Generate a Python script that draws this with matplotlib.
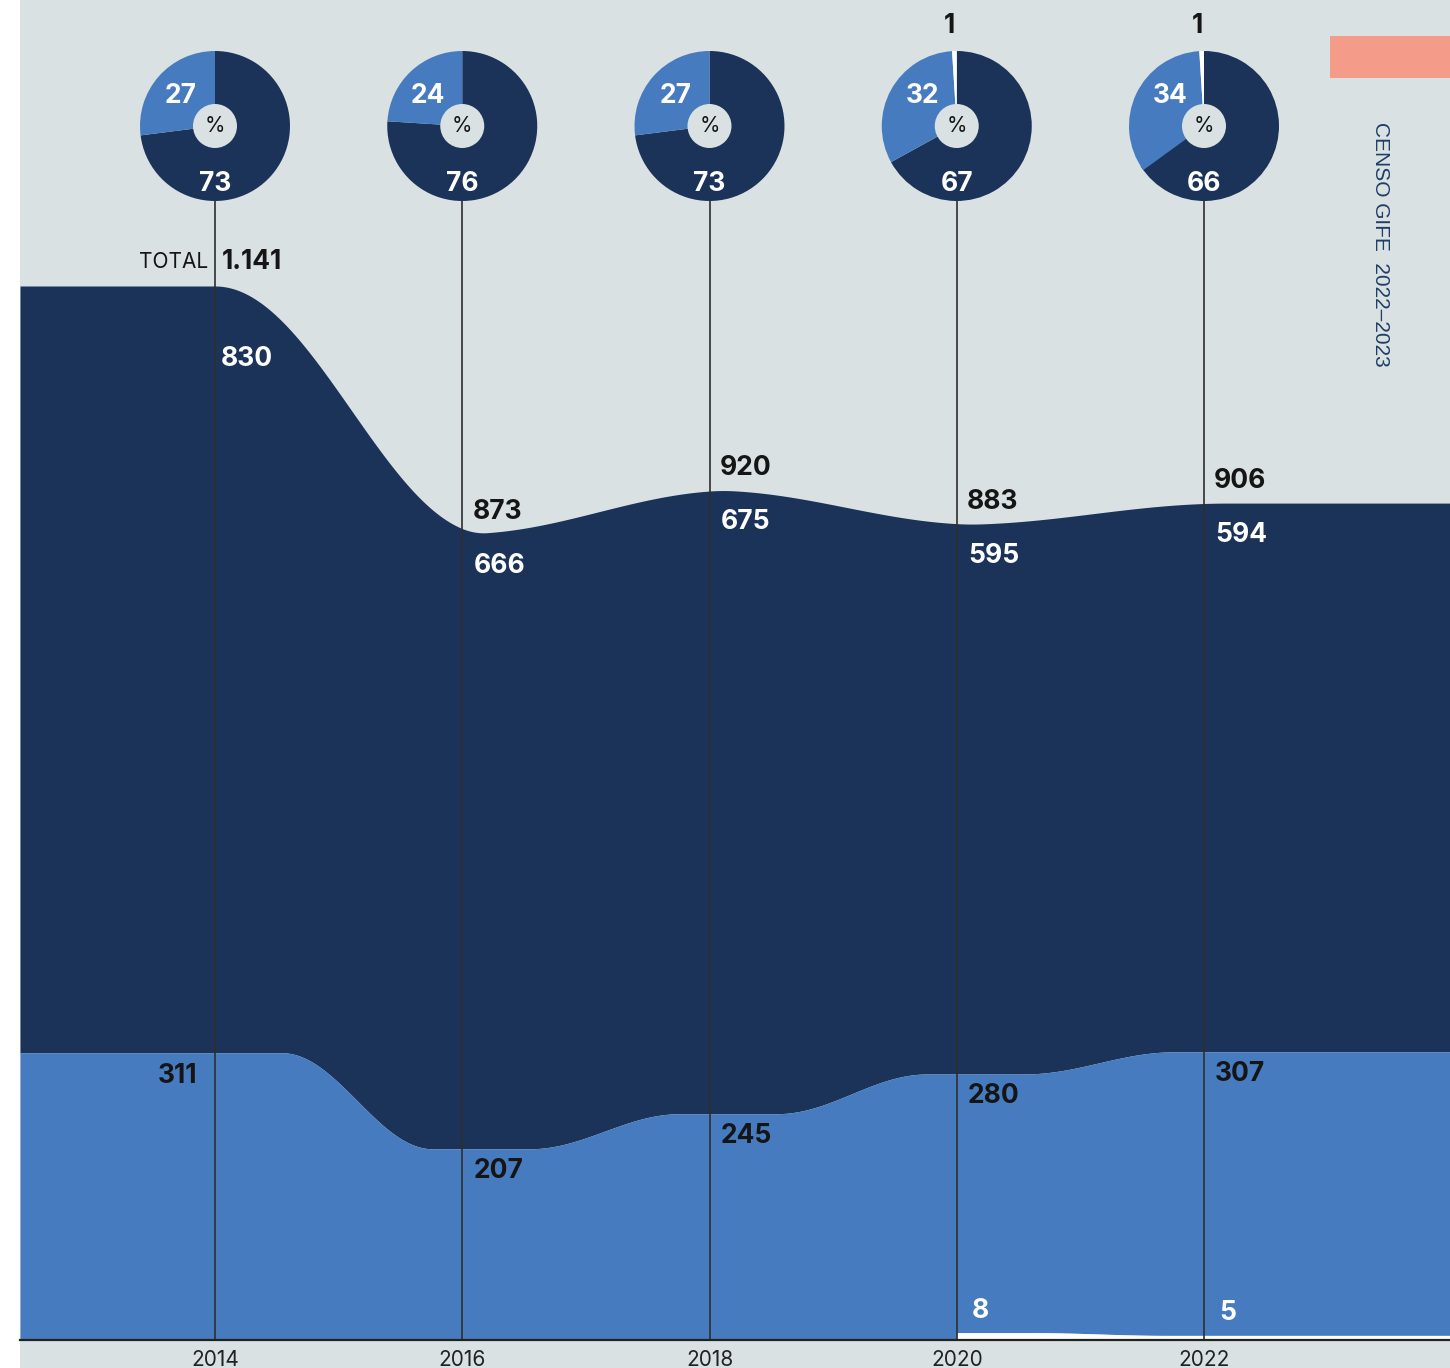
#!/usr/bin/env python3
"""
Stacked flow chart of GIFE census answers, 2014-2022, with a small pie per year.
"""
import numpy as np
import matplotlib.pyplot as plt
from matplotlib.patches import Wedge, Circle, Rectangle

# data
years = [2014, 2016, 2018, 2020, 2022]
dark_values = [830, 666, 675, 595, 594]
light_values = [311, 207, 245, 280, 307]
white_values = [0, 0, 0, 8, 5]
totals = [1141, 873, 920, 883, 906]
total_labels = ['1.141', '873', '920', '883', '906']
pct_dark = [73, 76, 73, 67, 66]
pct_light = [27, 24, 27, 32, 34]
pct_white = [0, 0, 0, 1, 1]

# colours
BG = '#d9e1e2'
DARK = '#1b3358'
LIGHT = '#467cbf'
TEXT = '#151515'
SALMON = '#f59b8a'

W, H = 1450, 1368
DPI = 100
NUM_SIZE = 19
plt.rcParams['font.family'] = ['Inter', 'Liberation Sans', 'DejaVu Sans']


def smooth(xs, ys, xx, start, end):
    """Step between the yearly values with a cosine ease inside each gap."""
    out = np.full(len(xx), float(ys[0]))
    for i in range(len(xs) - 1):
        gap = xs[i + 1] - xs[i]
        a, b = xs[i] + start * gap, xs[i] + end * gap
        t = np.clip((xx - a) / (b - a), 0, 1)
        out += (ys[i + 1] - ys[i]) * (1 - np.cos(np.pi * t)) / 2
    return out


fig = plt.figure(figsize=(W / DPI, H / DPI), dpi=DPI, facecolor='white')
fig.add_artist(Rectangle((20 / W, 0), 1 - 20 / W, 1, transform=fig.transFigure,
                         facecolor=BG, edgecolor='none', zorder=0))

# main area chart: 2014 sits at x=215px, 2022 at x=1204px, base at y=1340px
px_per_year = (1204 - 215) / 8
px_per_unit = (1340 - 286) / 1141
x_left = 2014 - (215 - 20) / px_per_year
x_right = 2022 + (W - 1204) / px_per_year

ax = fig.add_axes([20 / W, (H - 1340) / H, (W - 20) / W, 1340 / H])
ax.set_facecolor('none')
ax.set_xlim(x_left, x_right)
ax.set_ylim(0, 1340 / px_per_unit)

xx = np.linspace(x_left, x_right, 3000)
white_top = smooth(years, white_values, xx, 0.3, 0.85)
white_top[xx < 2020] = 0
light_top = smooth(years, np.add(light_values, white_values), xx, 0.27, 0.88)
total_top = smooth(years, totals, xx, 0.0, 1.1)

ax.fill_between(xx, light_top, total_top, color=DARK, lw=0, zorder=1)
ax.fill_between(xx, white_top, light_top, color=LIGHT, lw=0, zorder=1)
ax.fill_between(xx, 0, white_top, where=xx >= 2020, color='white', lw=0, zorder=1)

for yr in years:
    ax.axvline(yr, ymin=0, ymax=(1340 - 190) / 1340, color='#2e2e2e', lw=1.2, zorder=3)

for sp in ['top', 'right', 'left']:
    ax.spines[sp].set_visible(False)
ax.spines['bottom'].set_color('#222222')
ax.spines['bottom'].set_linewidth(1.6)
ax.spines['bottom'].set_zorder(4)
ax.set_yticks([])
ax.set_xticks(years)
ax.set_xticklabels([str(y) for y in years])
ax.tick_params(axis='x', length=0, pad=7, labelsize=15, labelcolor='#222222')

num_style = dict(fontsize=NUM_SIZE, fontweight='bold', textcoords='offset pixels', zorder=5)

# totals on top of each flow
for i, yr in enumerate(years):
    if i == 0:
        ax.annotate('TOTAL', (yr, totals[i]), xytext=(-7, 24), ha='right', va='center',
                    fontsize=15, color=TEXT, textcoords='offset pixels', zorder=5)
        ax.annotate(total_labels[i], (yr, totals[i]), xytext=(7, 24), ha='left',
                    va='center', color=TEXT, **num_style)
    else:
        ax.annotate(total_labels[i], (yr, totals[i]), xytext=(10, 22), ha='left',
                    va='center', color=TEXT, **num_style)

# dark band values, just under the top edge
for i, yr in enumerate(years):
    dy = -73 if i == 0 else -32
    ax.annotate(str(dark_values[i]), (yr, totals[i]), xytext=(6 if i == 0 else 11, dy),
                ha='left', va='center', color='white', **num_style)

# light band values
for i, yr in enumerate(years):
    top = light_values[i] + white_values[i]
    if i == 0:
        ax.annotate(str(light_values[i]), (yr, top), xytext=(-18, -23), ha='right',
                    va='center', color=TEXT, **num_style)
    else:
        ax.annotate(str(light_values[i]), (yr, top), xytext=(11, -22), ha='left',
                    va='center', color=TEXT, **num_style)

# thin white band values
for i, yr in enumerate(years):
    if white_values[i] > 0:
        ax.annotate(str(white_values[i]), (yr, white_values[i]), xytext=(15, 22),
                    ha='left', va='center', color='white', **num_style)

# overlay in pixel coordinates (y up) for the pies and side marks
ov = fig.add_axes([0, 0, 1, 1], zorder=5)
ov.set_xlim(0, W)
ov.set_ylim(0, H)
ov.axis('off')
ov.set_facecolor('none')

fig.canvas.draw()
pie_y = H - 126
radius = 75
for i, yr in enumerate(years):
    cx = ax.transData.transform((yr, 0))[0] / fig.dpi * DPI
    d, l, w = pct_dark[i], pct_light[i], pct_white[i]
    ov.add_patch(Wedge((cx, pie_y), radius, 90 - 3.6 * d, 90, color=DARK, lw=0))
    ov.add_patch(Wedge((cx, pie_y), radius, 90 + 3.6 * w, 90 + 3.6 * (w + l),
                       color=LIGHT, lw=0))
    if w > 0:
        ov.add_patch(Wedge((cx, pie_y), radius, 90, 90 + 3.6 * w, color='white', lw=0))
        ov.text(cx - 7, H - 26, str(w), ha='center', va='center', fontsize=NUM_SIZE,
                fontweight='bold', color=TEXT)
    ov.add_patch(Circle((cx, pie_y), 22, color=BG, lw=0))
    ov.text(cx, pie_y, '%', ha='center', va='center', fontsize=15, color=TEXT)
    ov.text(cx - 34, pie_y + 30, str(l), ha='center', va='center', fontsize=NUM_SIZE,
            fontweight='bold', color='white')
    ov.text(cx, pie_y - 58, str(d), ha='center', va='center', fontsize=NUM_SIZE,
            fontweight='bold', color='white')

# side marks
ov.add_patch(Rectangle((1330, H - 78), W - 1330, 42, color=SALMON, lw=0))
ov.text(1381, H - 122, 'CENSO GIFE  2022–2023', rotation=270, ha='center', va='top',
        fontsize=15, color='#1f3d66', family=['Liberation Sans', 'DejaVu Sans'])

fig.savefig('out.png', dpi=DPI, facecolor='white')
plt.close(fig)
